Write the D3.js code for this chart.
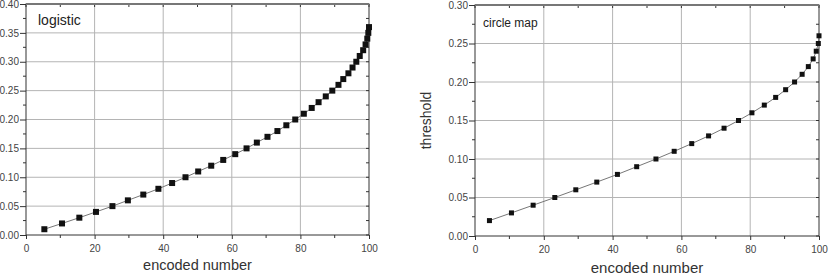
<!DOCTYPE html>
<html>
<head>
<meta charset="utf-8">
<script src="https://cdn.jsdelivr.net/npm/d3@7"></script>
<style>
  body { margin: 0; background: #fff; }
  svg { display: block; font-family: "Liberation Sans", Arial, sans-serif; }
</style>
</head>
<body>
<svg id="chart" width="830" height="275"></svg>
<script>
// logistic map panel
const logisticX = [5.35, 10.5, 15.55, 20.4, 25.2, 29.7, 34.2, 38.6, 42.6, 46.5, 50.2, 54.0,
    57.5, 61.0, 64.3, 67.3, 70.4, 73.3, 75.9, 78.5, 81.0, 83.3, 85.3, 87.4, 89.3, 91.1,
    92.5, 94.0, 95.2, 96.3, 97.3, 98.3, 99.0, 99.5, 99.8, 100];
const logisticY = [0.01, 0.02, 0.03, 0.04, 0.05, 0.06, 0.07, 0.08, 0.09, 0.10, 0.11, 0.12,
    0.13, 0.14, 0.15, 0.16, 0.17, 0.18, 0.19, 0.20, 0.21, 0.22, 0.23, 0.24, 0.25, 0.26,
    0.27, 0.28, 0.29, 0.30, 0.31, 0.32, 0.33, 0.34, 0.35, 0.36];

// circle map panel
const circleX = [4.2, 10.6, 16.9, 23.2, 29.3, 35.4, 41.4, 47.0, 52.6, 57.9, 63.0, 67.9,
    72.4, 76.6, 80.5, 84.1, 87.4, 90.3, 92.9, 95.1, 96.9, 98.3, 99.2, 99.8, 100];
const circleY = [0.02, 0.03, 0.04, 0.05, 0.06, 0.07, 0.08, 0.09, 0.10, 0.11, 0.12, 0.13,
    0.14, 0.15, 0.16, 0.17, 0.18, 0.19, 0.20, 0.21, 0.22, 0.23, 0.24, 0.25, 0.26];

const xTicks = [0, 20, 40, 60, 80, 100];
const xMinor = [10, 30, 50, 70, 90];
const logisticTicks = [0.00, 0.05, 0.10, 0.15, 0.20, 0.25, 0.30, 0.35, 0.40];
const circleTicks = [0.00, 0.05, 0.10, 0.15, 0.20, 0.25, 0.30];

const svg = d3.select("#chart");

function panel(opts) {
    const x = d3.scaleLinear().domain([0, 100]).range([opts.left, opts.right]);
    const y = d3.scaleLinear().domain([0, opts.yMax]).range([opts.bottom, opts.top]);
    const g = svg.append("g");

    const yMinor = opts.yTicks.slice(0, -1).map(v => v + 0.025);

    // grid
    g.selectAll(".gx").data(xTicks.slice(1, -1)).join("line")
        .attr("x1", d => x(d)).attr("x2", d => x(d))
        .attr("y1", opts.top).attr("y2", opts.bottom)
        .attr("stroke", "#b4b4b4").attr("stroke-width", 1);
    g.selectAll(".gy").data(opts.yTicks.slice(1, -1)).join("line")
        .attr("y1", d => y(d)).attr("y2", d => y(d))
        .attr("x1", opts.left).attr("x2", opts.right)
        .attr("stroke", "#b4b4b4").attr("stroke-width", 1);

    // axes
    const xAxis = g.append("g")
        .attr("transform", `translate(0,${opts.bottom})`)
        .call(d3.axisBottom(x).tickValues(xTicks).tickSize(4).tickFormat(d3.format("d")));
    const yAxis = g.append("g")
        .attr("transform", `translate(${opts.left},0)`)
        .call(d3.axisLeft(y).tickValues(opts.yTicks).tickSize(6).tickFormat(d3.format(".2f")));
    [xAxis, yAxis].forEach(a => {
        a.select(".domain").remove();
        a.selectAll("line").attr("stroke", "#333");
        a.selectAll("text").attr("fill", "#444").style("font-size", "10px");
    });
    xAxis.selectAll("text").attr("dy", "1.0em");
    yAxis.selectAll("text").attr("x", -7);

    // minor ticks (outer on left/bottom, inner on top/right)
    g.selectAll(".mxb").data(xMinor).join("line")
        .attr("x1", d => x(d)).attr("x2", d => x(d))
        .attr("y1", opts.bottom).attr("y2", opts.bottom + 3).attr("stroke", "#333");
    g.selectAll(".mxt").data(xMinor.concat(xTicks)).join("line")
        .attr("x1", d => x(d)).attr("x2", d => x(d))
        .attr("y1", opts.top).attr("y2", opts.top + 3).attr("stroke", "#333");
    g.selectAll(".myl").data(yMinor).join("line")
        .attr("y1", d => y(d)).attr("y2", d => y(d))
        .attr("x1", opts.left - 3).attr("x2", opts.left).attr("stroke", "#333");
    g.selectAll(".myr").data(yMinor.concat(opts.yTicks)).join("line")
        .attr("y1", d => y(d)).attr("y2", d => y(d))
        .attr("x1", opts.right - 3).attr("x2", opts.right).attr("stroke", "#333");

    // frame
    g.append("rect")
        .attr("x", opts.left).attr("y", opts.top)
        .attr("width", opts.right - opts.left).attr("height", opts.bottom - opts.top)
        .attr("fill", "none").attr("stroke", "#333").attr("stroke-width", 1);
    g.append("line")
        .attr("x1", opts.left).attr("x2", opts.right)
        .attr("y1", opts.top).attr("y2", opts.top)
        .attr("stroke", "#777").attr("stroke-width", 2);

    // data
    const pts = opts.xs.map((v, i) => [v, opts.ys[i]]);
    g.append("path")
        .datum(pts)
        .attr("fill", "none").attr("stroke", "#777").attr("stroke-width", 1)
        .attr("d", d3.line().x(d => x(d[0])).y(d => y(d[1])));
    const s = opts.marker;
    g.selectAll(".pt").data(pts).join("rect")
        .attr("x", d => x(d[0]) - s / 2).attr("y", d => y(d[1]) - s / 2)
        .attr("width", s).attr("height", s).attr("fill", "#111");

    // labels
    g.append("text")
        .attr("x", opts.left + opts.titleDx).attr("y", opts.top + opts.titleDy)
        .style("font-size", opts.titleSize + "px").attr("fill", "#222")
        .text(opts.title);
    g.append("text")
        .attr("x", (opts.left + opts.right) / 2).attr("y", opts.xLabelY)
        .attr("text-anchor", "middle")
        .style("font-size", opts.xLabelSize + "px").attr("fill", "#333")
        .text("encoded number");
    if (opts.yLabel) {
        g.append("text")
            .attr("transform", `translate(${opts.yLabelX},${(opts.top + opts.bottom) / 2}) rotate(-90)`)
            .attr("text-anchor", "middle")
            .style("font-size", "14px").attr("fill", "#333")
            .text(opts.yLabel);
    }
}

panel({
    left: 26, right: 369, top: 4, bottom: 235, yMax: 0.4,
    yTicks: logisticTicks, xs: logisticX, ys: logisticY, marker: 6,
    title: "logistic", titleDx: 12, titleDy: 21, titleSize: 14,
    xLabelY: 270, xLabelSize: 14.5
});

panel({
    left: 475, right: 819, top: 5, bottom: 236, yMax: 0.3,
    yTicks: circleTicks, xs: circleX, ys: circleY, marker: 5,
    title: "circle map", titleDx: 8, titleDy: 22, titleSize: 12,
    xLabelY: 273, xLabelSize: 15,
    yLabel: "threshold", yLabelX: 431
});
</script>
</body>
</html>
